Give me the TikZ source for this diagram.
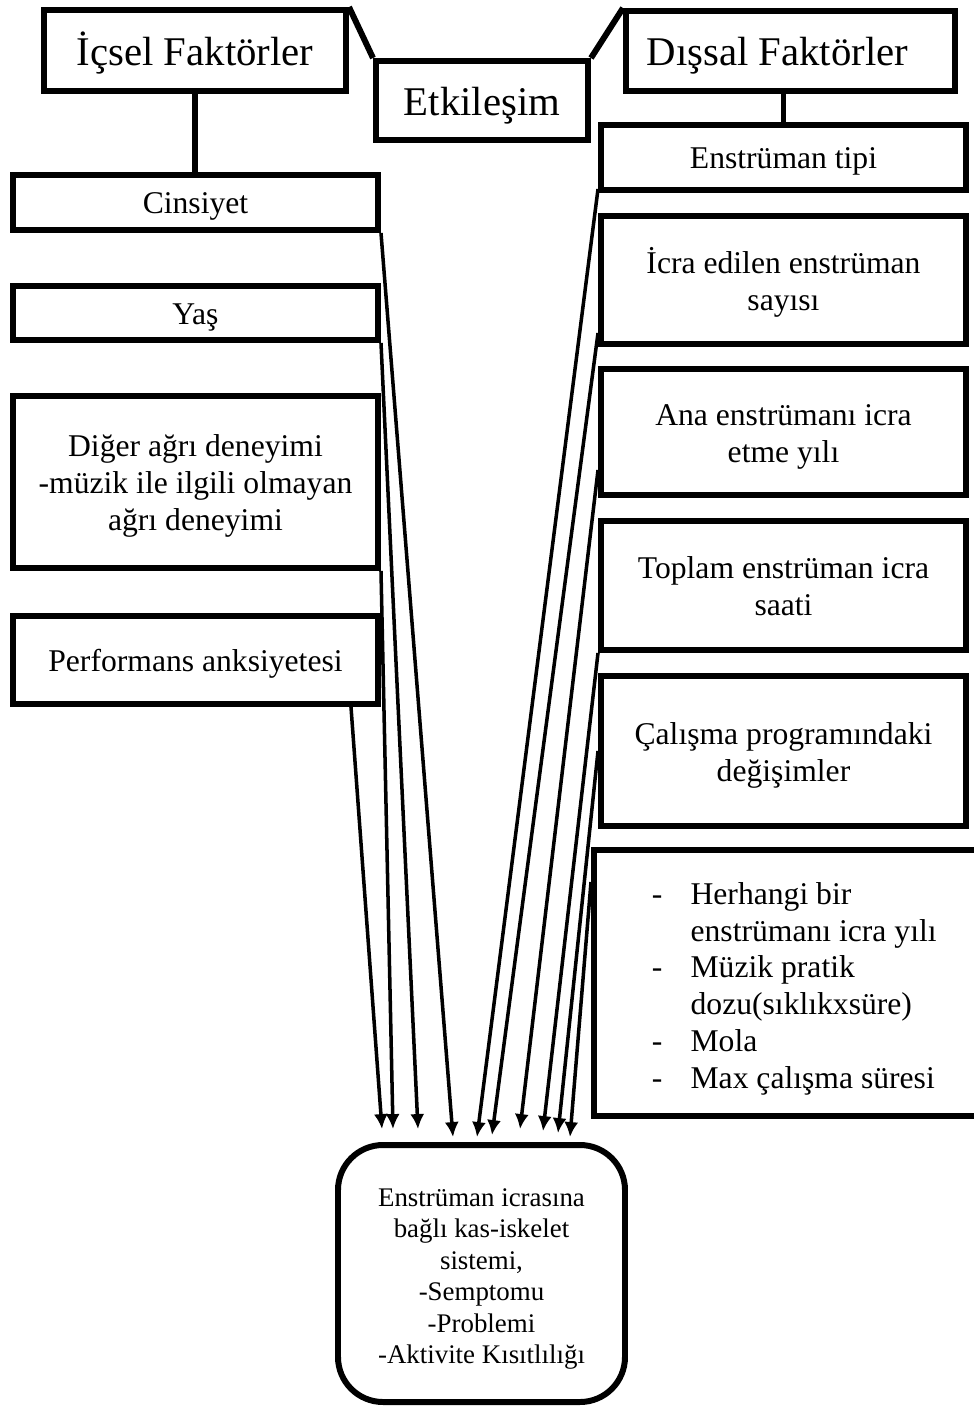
\documentclass[tikz,border=0pt]{standalone}
\usepackage{fontspec}
\setmainfont{Liberation Serif}
\usepackage{tikz}
\usetikzlibrary{arrows.meta}
\usetikzlibrary{calc}
\newcommand{\satir}[2][-2.5pt]{\raisebox{#1}[\height][\depth]{\begin{tabular}{@{}c@{}}#2\end{tabular}}}

\begin{document}
\begin{tikzpicture}[x=0.2mm, y=-0.2mm,
    box/.style={draw, line width=3.4pt, inner sep=0pt, font=\fontsize{18}{21}\selectfont,
        execute at begin node={\rule{0pt}{16.5pt}}},
    baslik/.style={box, font=\fontsize{23.2}{27}\selectfont, execute at begin node={\rule{0pt}{22pt}}},
    bag/.style={line width=3.4pt},
    ok/.style={line width=2pt, -{Latex[length=8.5pt,width=8pt]}}]
    \useasboundingbox (0,0) rectangle (974,1407);
    \clip (0,0) rectangle (974,1407);
    % ust basliklar
    \node[baslik, minimum width=6.04cm, minimum height=1.62cm] (icsel) at (195,50.5) {İçsel Faktörler};
    \node[baslik, minimum width=4.24cm, minimum height=1.58cm] (etk) at (482,100.5) {Etkileşim};
    \node[baslik, minimum width=6.58cm, minimum height=1.6cm] (dissal) at (790.5,51) {Dışsal Faktörler\hspace*{14.8pt}};
    % icsel faktorler
    \node[box, minimum width=7.3cm, minimum height=1.1cm] (cins) at (195.5,202.5) {Cinsiyet};
    \node[box, minimum width=7.3cm, minimum height=1.08cm] (yas) at (195.5,313) {Yaş};
    \node[box, minimum width=7.3cm, minimum height=3.44cm] (diger) at (195.5,482) {\satir{Diğer ağrı deneyimi\\-müzik ile ilgili olmayan\\ağrı deneyimi}};
    \node[box, minimum width=7.3cm, minimum height=1.76cm] (perf) at (195.5,660) {Performans anksiyetesi};
    % dissal faktorler
    \node[box, minimum width=7.3cm, minimum height=1.3cm] (tip) at (783.5,157.5) {Enstrüman tipi};
    \node[box, minimum width=7.3cm, minimum height=2.56cm] (sayi) at (783.5,280) {\satir{İcra edilen enstrüman\\sayısı}};
    \node[box, minimum width=7.3cm, minimum height=2.52cm] (ana) at (783.5,432) {\satir{Ana enstrümanı icra\\etme yılı}};
    \node[box, minimum width=7.3cm, minimum height=2.58cm] (toplam) at (783.5,585.5) {\satir{Toplam enstrüman icra\\saati}};
    \node[box, minimum width=7.3cm, minimum height=3cm] (calisma) at (783.5,751) {\satir{Çalışma programındaki\\değişimler}};
    \node[box, anchor=west, inner xsep=33pt, minimum height=5.32cm] (liste) at (591,983)
        {\raisebox{-3.4pt}[\height][\depth]{\begin{tabular}{@{}l@{\hspace{16pt}}l@{}}
         -&Herhangi bir\\
          &enstrümanı icra yılı\\
         -&Müzik pratik\\
          &dozu(sıklıkxsüre)\\
         -&Mola\\
         -&Max çalışma süresi
         \end{tabular}}};
    % sonuc
    \node[box, rounded corners=0.9cm, minimum width=5.74cm, minimum height=5.14cm,
          font=\fontsize{15.3}{17.9}\selectfont] (sonuc) at (481.5,1273.5)
        {\satir[-3pt]{Enstrüman icrasına\\bağlı kas-iskelet\\sistemi,\\-Semptomu\\-Problemi\\-Aktivite Kısıtlılığı}};
    % baglantilar
    \draw[bag] (icsel.north east) -- (etk.north west);
    \draw[bag] (dissal.north west) -- (etk.north east);
    \draw[bag] (icsel.south) -- (icsel.south |- cins.north);
    \draw[bag] (tip.north) -- (tip.north |- dissal.south);
    % oklar
    \draw[ok] ($(perf.south east)+(-30,0)$) -- ($(sonuc.north)+(-99.5,-13)$);
    \draw[ok] (diger.south east) -- ($(sonuc.north)+(-88.5,-13)$);
    \draw[ok] (yas.south east) -- ($(sonuc.north)+(-63.5,-13)$);
    \draw[ok] (cins.south east) -- ($(sonuc.north)+(-28.5,-5)$);
    \draw[ok] ($(tip.south west)+(0,-4)$) -- ($(sonuc.north)+(-4.5,-5)$);
    \draw[ok] ($(sayi.south west)+(0,-14)$) -- ($(sonuc.north)+(10.5,-7)$);
    \draw[ok] ($(ana.south west)+(0,-28)$) -- ($(sonuc.north)+(38.5,-13)$);
    \draw[ok] (toplam.south west) -- ($(sonuc.north)+(61.5,-11)$);
    \draw[ok] (calisma.west) -- ($(sonuc.north)+(76.5,-9)$);
    \draw[ok] ($(liste.north west)+(0,35)$) -- ($(sonuc.north)+(88.5,-5)$);
\end{tikzpicture}
\end{document}
